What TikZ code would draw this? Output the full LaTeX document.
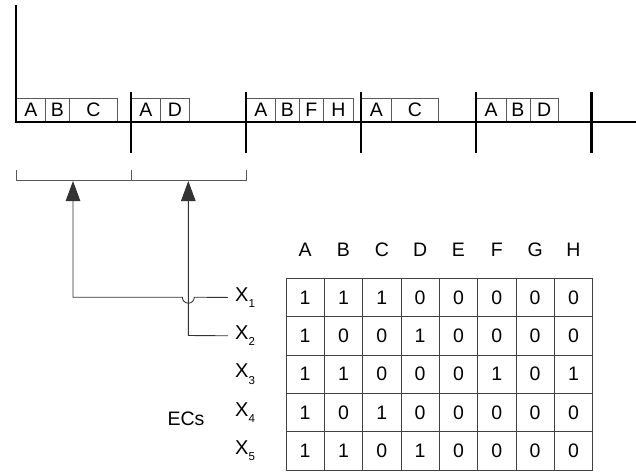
\documentclass[tikz,border=0pt]{standalone}
\usepackage{fontspec}
\setmainfont{Liberation Sans}
\usetikzlibrary{arrows.meta}
\begin{document}
\begin{tikzpicture}[x=1pt,y=-1pt,
  thickline/.style={line width=2.4pt,black},
  cellbox/.style={draw=black!65,line width=0.8pt,minimum height=23.5pt,inner sep=0pt,anchor=south west,font=\fontsize{19.5}{20}\selectfont},
  tcell/.style={draw=black!75,line width=0.8pt,minimum width=38.33pt,minimum height=38.33pt,inner sep=0pt,font=\fontsize{19.5}{20}\selectfont},
  head/.style={inner sep=0pt,font=\fontsize{19.5}{20}\selectfont},
  xlab/.style={anchor=west,inner xsep=7pt,inner ysep=0pt,font=\fontsize{20}{20}\selectfont},
  bracket/.style={draw=black!65,line width=0.9pt},
  conn/.style={draw=black!80,line width=0.9pt},
  arr/.style={conn,-{Triangle[length=20pt,width=14.5pt]}}]
\useasboundingbox (0,0) rectangle (636,473);
% segment boxes
\foreach \x/\w/\t/\n in {16/29/A/a1,45/24/B/b1,69/48/C/c1,
  131/29/A/a2,160/29/D/d2,
  246/29/A/a3,275/24/B/b3,299/24/F/f3,323/30/H/h3,
  361/30/A/a4,391/47/C/c4,
  476/29.5/A/a5,505.5/24/B/b5,529.5/28.5/D/d5}
  \node[cellbox,minimum width=\w pt] (\n) at (\x,122) {\t};
% thick axis lines
\coordinate (top) at (16,5);
\coordinate (orig) at (16,122);
\coordinate (end) at (636,122);
\draw[thickline] (top) -- (orig) -- (end);
\foreach \x/\n in {131/t1,246/t2,361/t3,476/t4,591.5/t5}{
  \coordinate (\n u) at (\x,92);
  \coordinate (\n d) at (\x,153);
  \draw[thickline] (\n u) -- (\n d);}
% bracket
\coordinate (bl) at (16,180); \coordinate (bm) at (131,180); \coordinate (br) at (246,180);
\draw[bracket] (16,170) -- (bl) -- (br) -- (246,170);
\draw[bracket] (bm) -- (131,170);
\coordinate (tip1) at (73,181);
\coordinate (tip2) at (188.3,181);
% table headers
\foreach \t [count=\i] in {A,B,C,D,E,F,G,H}
  \node[head] (h\i) at (286+38.33*\i-19.17,250) {\t};
% table
\foreach \row [count=\r] in {{1,1,1,0,0,0,0,0},{1,0,0,1,0,0,0,0},{1,1,0,0,0,1,0,1},{1,0,1,0,0,0,0,0},{1,1,0,1,0,0,0,0}}{
  \foreach \v [count=\c] in \row
    \node[tcell] (m\r\c) at (286+38.33*\c-19.17,278.3+38.33*\r-19.17) {\v};
  \node[xlab] (x\r) at (228,278.3+38.33*\r-19.17) {X\raisebox{-6.5pt}{\fontsize{11.5}{12}\selectfont\r}};
}
\node[head] (ecs) at (186,419) {ECs};
% connectors
\draw[arr] (x1.west) -- (194.3,297.2) arc[start angle=0,end angle=180,radius=6] -- (73,297.2) -- (tip1);
\draw[arr] (x2.west) -- (188.3,335.5) -- (tip2);
\end{tikzpicture}
\end{document}
